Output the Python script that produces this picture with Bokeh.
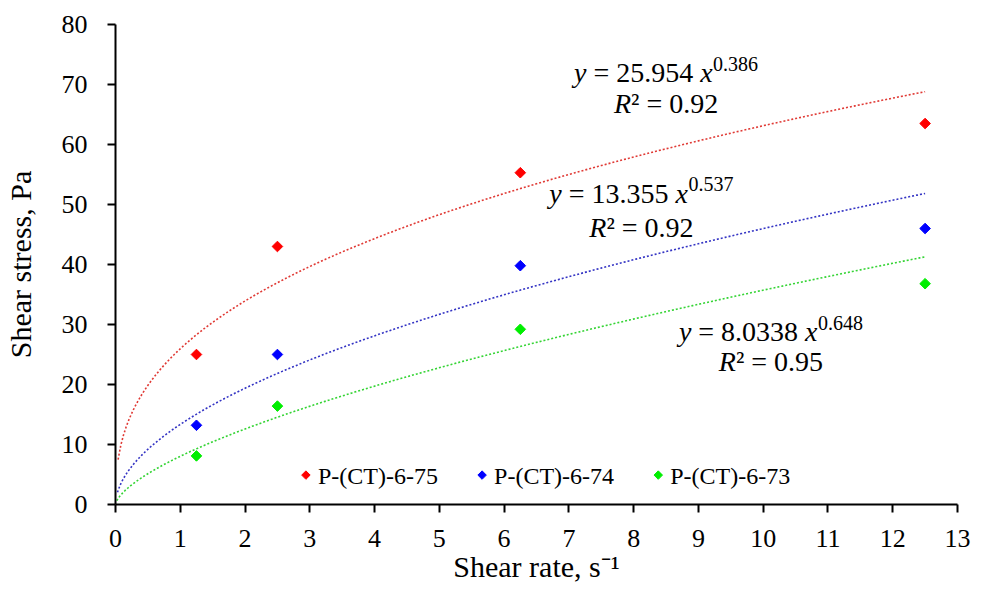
import math
from bokeh.plotting import figure
from bokeh.models import Range1d, FixedTicker, Label
from bokeh.embed import file_html
from bokeh.resources import INLINE

# ---------------- data ----------------
shear_rate = [1.25, 2.5, 6.25, 12.5]
series_names = ["P-(CT)-6-75", "P-(CT)-6-74", "P-(CT)-6-73"]
stress_75 = [25.0, 43.0, 55.3, 63.5]
stress_74 = [13.2, 25.0, 39.8, 46.0]
stress_73 = [8.1, 16.4, 29.2, 36.8]
fit_a = [25.954, 13.355, 8.0338]
fit_b = [0.386, 0.537, 0.648]
fit_a_text = ["25.954", "13.355", "8.0338"]
fit_b_text = ["0.386", "0.537", "0.648"]
fit_r2_text = ["0.92", "0.92", "0.95"]
fit_start = [0.04, 0.03, 0.02]
fit_end = 12.5
x_ticks = list(range(0, 14))
y_ticks = list(range(0, 81, 10))

# ---------------- style / layout ----------------
FONT = "Liberation Serif"
marker_colors = ["#ff0000", "#0000ff", "#00ee00"]
line_colors = ["#e03a35", "#3434c4", "#35d435"]
# equation label anchors (data coords): centre x, baseline of eq line, baseline of R2 line
eq_pos = [(8.50, 72.0, 66.9), (8.12, 51.9, 46.2), (10.12, 28.8, 23.8)]
# legend anchors (data coords): marker x positions, marker y, text baseline y
legend_x = [2.94, 5.66, 8.38]
legend_marker_y = 4.9
legend_text_y = 4.8

p = figure(width=971, height=585, x_range=Range1d(0, 13), y_range=Range1d(0, 80),
           output_backend="svg", toolbar_location=None,
           min_border_left=112, min_border_right=14, min_border_top=24, min_border_bottom=79)
p.outline_line_color = None
p.xgrid.visible = False
p.ygrid.visible = False
p.background_fill_color = "white"
p.border_fill_color = "white"

for ax, ticks in ((p.xaxis, x_ticks), (p.yaxis, y_ticks)):
    ax.ticker = FixedTicker(ticks=ticks)
    ax.axis_line_width = 2
    ax.axis_line_color = "black"
    ax.major_tick_line_width = 2
    ax.major_tick_line_color = "black"
    ax.major_tick_out = 8
    ax.major_tick_in = 0
    ax.minor_tick_line_color = None
    ax.major_label_text_font = FONT
    ax.major_label_text_font_size = "26px"
    ax.major_label_text_color = "black"
    ax.axis_label_text_font = FONT
    ax.axis_label_text_font_size = "30px"
    ax.axis_label_text_font_style = "normal"
    ax.axis_label_text_color = "black"

p.xaxis.axis_label = "Shear rate, s\u207b\u00b9"
p.yaxis.axis_label = "Shear stress, Pa"
p.xaxis.major_label_standoff = 17
p.xaxis.axis_label_standoff = 0
p.yaxis.major_label_standoff = 20
p.yaxis.axis_label_standoff = 22

# ---------------- trend lines ----------------
series = [stress_75, stress_74, stress_73]
for i in range(3):
    n = 300
    x0 = fit_start[i]
    xs = [x0 + (fit_end - x0) * k / (n - 1) for k in range(n)]
    ys = [fit_a[i] * xv ** fit_b[i] for xv in xs]
    p.line(xs, ys, line_color=line_colors[i], line_width=1.6, line_dash="2 2")

# ---------------- markers ----------------
for i in range(3):
    p.scatter(shear_rate, series[i], marker="square", angle=math.pi / 4,
              size=7.5, fill_color=marker_colors[i], line_color=marker_colors[i])

# ---------------- legend (drawn as diamonds + labels) ----------------
p.scatter(legend_x, [legend_marker_y] * 3, marker="square", angle=math.pi / 4,
          size=6, fill_color=marker_colors, line_color=marker_colors)
for i in range(3):
    p.add_layout(Label(x=legend_x[i], y=legend_text_y, x_offset=12, text=series_names[i],
                       text_font=FONT, text_font_size="24px", text_color="black",
                       text_baseline="alphabetic", text_align="left"))

# ---------------- equation labels ----------------
W_REG = {' ': 250, '=': 564, '.': 250, '\u00b2': 300}
for d in "0123456789":
    W_REG[d] = 500
W_IT = {'y': 444, 'x': 444, 'R': 611}


def tw(s, size, italic=False):
    tab = W_IT if italic else W_REG
    return sum(tab.get(c, 500) for c in s) * size / 1000.0


def place_runs(cx, by, runs):
    # runs: (text, italic, size, dy, gap_before_px)
    total = 0.0
    for t, it, sz, dy, gap in runs:
        total += gap + tw(t, sz, it)
    off = -total / 2.0
    for t, it, sz, dy, gap in runs:
        off += gap
        p.add_layout(Label(x=cx, y=by, x_offset=off, y_offset=dy, text=t,
                           text_font=FONT, text_font_size=f"{sz}px",
                           text_font_style="italic" if it else "normal",
                           text_color="black", text_baseline="alphabetic", text_align="left"))
        off += tw(t, sz, it)


MAIN = 28
SUP = 20
sp = MAIN * 0.25
for i in range(3):
    cx, by1, by2 = eq_pos[i]
    place_runs(cx, by1, [
        ("y", True, MAIN, 0, 0),
        ("= " + fit_a_text[i], False, MAIN, 0, sp),
        ("x", True, MAIN, 0, sp),
        (fit_b_text[i], False, SUP, 9, 0.5),
    ])
    place_runs(cx, by2, [
        ("R", True, MAIN, 0, 0),
        ("\u00b2 = " + fit_r2_text[i], False, MAIN, 0, 0),
    ])

open("out.html", "w").write(file_html(p, INLINE))
